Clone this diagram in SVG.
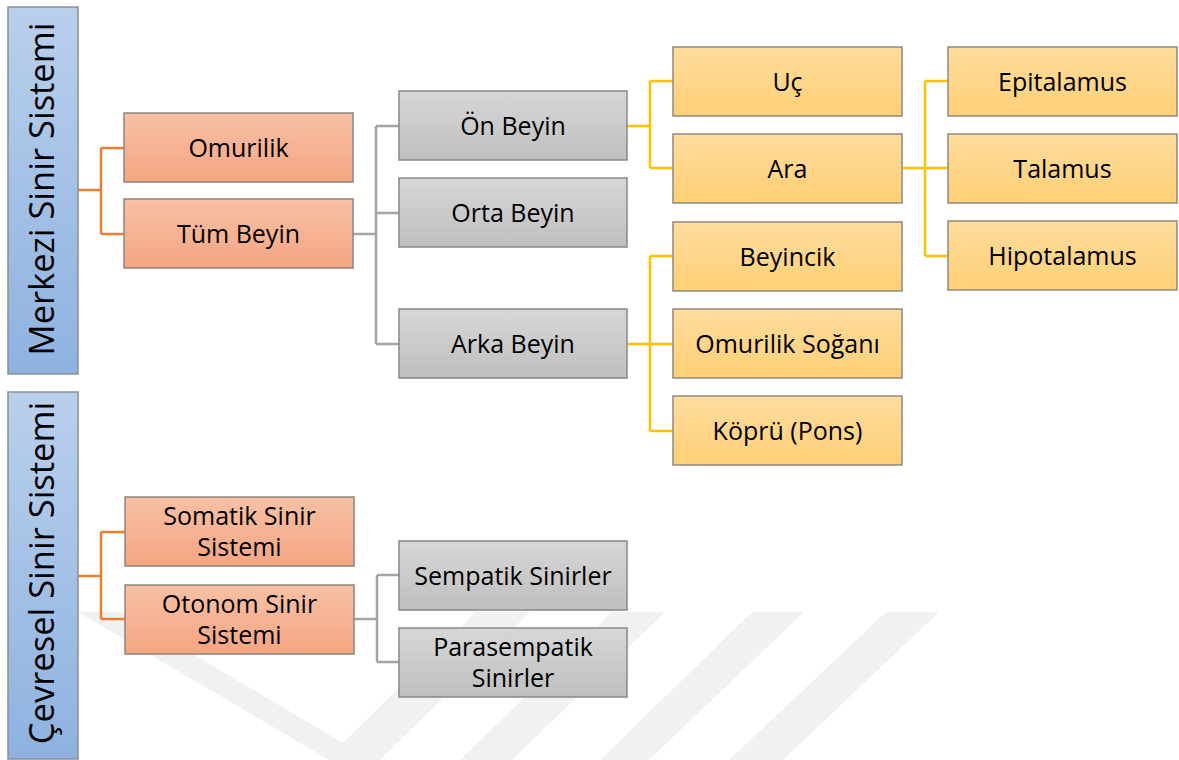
<svg xmlns="http://www.w3.org/2000/svg" width="1179" height="760" viewBox="0 0 1179 760">
  <defs>
    <linearGradient id="gBlue" x1="0" y1="0" x2="0" y2="1">
      <stop offset="0" stop-color="#b9d0ec"/>
      <stop offset="1" stop-color="#8eb2e0"/>
    </linearGradient>
    <linearGradient id="gOrange" x1="0" y1="0" x2="0" y2="1">
      <stop offset="0" stop-color="#f8c1a6"/>
      <stop offset="1" stop-color="#f4a581"/>
    </linearGradient>
    <linearGradient id="gGray" x1="0" y1="0" x2="0" y2="1">
      <stop offset="0" stop-color="#d7d7d7"/>
      <stop offset="1" stop-color="#bfbfbf"/>
    </linearGradient>
    <linearGradient id="gYellow" x1="0" y1="0" x2="0" y2="1">
      <stop offset="0" stop-color="#ffdc9e"/>
      <stop offset="1" stop-color="#fed076"/>
    </linearGradient>
  </defs>
  <style>
    .bar { fill: url(#gBlue); stroke: #8a8f96; stroke-width: 1.5; }
    .org { fill: url(#gOrange); stroke: #8c8580; stroke-width: 1.5; }
    .gry { fill: url(#gGray); stroke: #888888; stroke-width: 1.5; }
    .ylw { fill: url(#gYellow); stroke: #8f8a80; stroke-width: 1.5; }
    text { font-family: "Open Sans", "Noto Sans", sans-serif; fill: #000; text-anchor: middle; }
    .lbl { font-size: 25px; }
    .big { font-size: 34.5px; }
    .c-o { fill: none; stroke: #ed7d31; stroke-width: 2.5; }
    .c-g { fill: none; stroke: #a5a5a5; stroke-width: 2.5; }
    .c-y { fill: none; stroke: #ffc000; stroke-width: 2.5; }
    .wm { fill: #f1f1f1; }
  </style>

  <rect width="1179" height="760" fill="#ffffff"/>

  <!-- faint background emblem -->
  <g id="backdrop">
    <polygon class="wm" points="78,612 122,612 343,743 476,612 530,612 380,760 329,760"/>
    <polygon class="wm" points="612,612 665,612 512,760 460,760"/>
    <polygon class="wm" points="752,612 804,612 649,760 600,760"/>
    <polygon class="wm" points="886,612 939,612 783,760 729,760"/>
  </g>

  <!-- connectors -->
  <g id="connectors">
    <path class="c-o" d="M78,190 H101 M101,148 V234 M101,148 H124 M101,234 H124"/>
    <path class="c-o" d="M78,576 H101 M101,532 V619 M101,532 H125 M101,619 H125"/>
    <path class="c-g" d="M353,234 H376 M376,126 V344 M376,126 H399 M376,213 H399 M376,344 H399"/>
    <path class="c-g" d="M354,619 H377 M377,575 V662 M377,575 H399 M377,662 H399"/>
    <path class="c-y" d="M627,126 H650 M650,81 V168 M650,81 H673 M650,168 H673"/>
    <path class="c-y" d="M903,168 H925 M925,81 V256 M925,81 H948 M925,168 H948 M925,256 H948"/>
    <path class="c-y" d="M627,344 H650 M650,256 V431 M650,256 H673 M650,344 H673 M650,431 H673"/>
  </g>

  <g id="merkezi">
    <rect class="bar" x="8" y="7" width="70" height="367"/>
    <text class="big" transform="translate(54,189) rotate(-90)">Merkezi Sinir Sistemi</text>
  </g>
  <g id="cevresel">
    <rect class="bar" x="8" y="392" width="70" height="367"/>
    <text class="big" transform="translate(54,573) rotate(-90)">Çevresel Sinir Sistemi</text>
  </g>

  <g id="omurilik">
    <rect class="org" x="124" y="113" width="229" height="69"/>
    <text class="lbl" x="238.5" y="156.5">Omurilik</text>
  </g>
  <g id="tum-beyin">
    <rect class="org" x="124" y="199" width="229" height="69"/>
    <text class="lbl" x="238.5" y="242.5">Tüm Beyin</text>
  </g>
  <g id="somatik">
    <rect class="org" x="125" y="497" width="229" height="69"/>
    <text class="lbl" x="239.5" y="525">Somatik Sinir</text>
    <text class="lbl" x="239.5" y="556">Sistemi</text>
  </g>
  <g id="otonom">
    <rect class="org" x="125" y="585" width="229" height="69"/>
    <text class="lbl" x="239.5" y="613">Otonom Sinir</text>
    <text class="lbl" x="239.5" y="644">Sistemi</text>
  </g>

  <g id="on-beyin">
    <rect class="gry" x="399" y="91" width="228" height="69"/>
    <text class="lbl" x="513" y="134.5">Ön Beyin</text>
  </g>
  <g id="orta-beyin">
    <rect class="gry" x="399" y="178" width="228" height="69"/>
    <text class="lbl" x="513" y="221.5">Orta Beyin</text>
  </g>
  <g id="arka-beyin">
    <rect class="gry" x="399" y="309" width="228" height="69"/>
    <text class="lbl" x="513" y="352.5">Arka Beyin</text>
  </g>
  <g id="sempatik">
    <rect class="gry" x="399" y="541" width="228" height="69"/>
    <text class="lbl" x="513" y="584.5">Sempatik Sinirler</text>
  </g>
  <g id="parasempatik">
    <rect class="gry" x="399" y="628" width="228" height="69"/>
    <text class="lbl" x="513" y="656">Parasempatik</text>
    <text class="lbl" x="513" y="687">Sinirler</text>
  </g>

  <g id="uc">
    <rect class="ylw" x="673" y="47" width="229" height="69"/>
    <text class="lbl" x="787.5" y="90.5">Uç</text>
  </g>
  <g id="ara">
    <rect class="ylw" x="673" y="134" width="229" height="69"/>
    <text class="lbl" x="787.5" y="177.5">Ara</text>
  </g>
  <g id="beyincik">
    <rect class="ylw" x="673" y="222" width="229" height="69"/>
    <text class="lbl" x="787.5" y="265.5">Beyincik</text>
  </g>
  <g id="omurilik-sogani">
    <rect class="ylw" x="673" y="309" width="229" height="69"/>
    <text class="lbl" x="787.5" y="352.5">Omurilik Soğanı</text>
  </g>
  <g id="kopru">
    <rect class="ylw" x="673" y="396" width="229" height="69"/>
    <text class="lbl" x="787.5" y="439.5">Köprü (Pons)</text>
  </g>

  <g id="epitalamus">
    <rect class="ylw" x="948" y="47" width="229" height="69"/>
    <text class="lbl" x="1062.5" y="90.5">Epitalamus</text>
  </g>
  <g id="talamus">
    <rect class="ylw" x="948" y="134" width="229" height="69"/>
    <text class="lbl" x="1062.5" y="177.5">Talamus</text>
  </g>
  <g id="hipotalamus">
    <rect class="ylw" x="948" y="221" width="229" height="69"/>
    <text class="lbl" x="1062.5" y="264.5">Hipotalamus</text>
  </g>
</svg>
